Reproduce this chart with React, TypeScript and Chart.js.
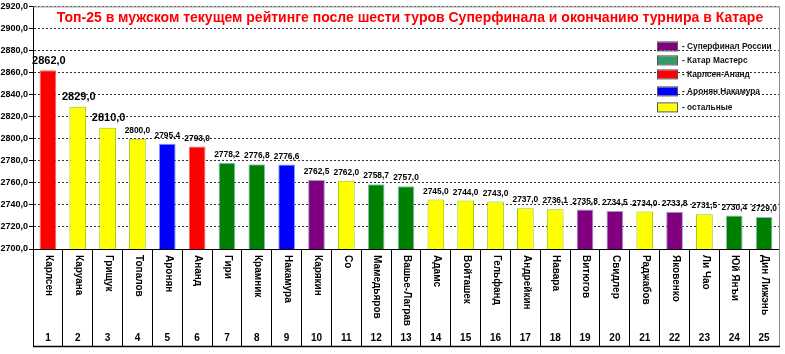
import React, { useEffect, useRef } from "react";
import { Chart, registerables } from "chart.js";

Chart.register(...registerables);

const names = [
  "Карлсен", "Каруана", "Грищук", "Топалов", "Аронян", "Ананд", "Гири", "Крамник",
  "Накамура", "Карякин", "Со", "Мамедьяров", "Вашье-Лаграв", "Адамс", "Войташек",
  "Гельфанд", "Андрейкин", "Навара", "Витюгов", "Свидлер", "Раджабов", "Яковенко",
  "Ли Чао", "Юй Янъи", "Дин Лижэнь",
];

const ratings = [
  2862.0, 2829.0, 2810.0, 2800.0, 2795.4, 2793.0, 2778.2, 2776.8, 2776.6, 2762.5,
  2762.0, 2758.7, 2757.0, 2745.0, 2744.0, 2743.0, 2737.0, 2736.1, 2735.8, 2734.5,
  2734.0, 2733.8, 2731.5, 2730.4, 2729.0,
];

// group of each player: s = Суперфинал, q = Катар, c = Карлсен-Ананд, a = Аронян Накамура, o = остальные
const groups = [
  "c", "o", "o", "o", "a", "c", "q", "q", "a", "s", "o", "q", "q", "o", "o", "o",
  "o", "o", "s", "s", "o", "s", "o", "q", "q",
];

const ranks = names.map((_, i) => String(i + 1));

const legendLabels = [
  "- Суперфинал России",
  "- Катар Мастерс",
  "- Карлсен-Ананд",
  "- Аронян Накамура",
  "- остальные",
];
const legendKeys = ["s", "q", "c", "a", "o"];

const yMin = 2700;
const yMax = 2920;
const yStep = 20;

const title =
  "Топ-25 в мужском текущем рейтинге после шести туров Суперфинала и окончанию турнира в Катаре";

const fillColors: Record<string, string> = {
  s: "#800080",
  q: "#008000",
  c: "#ff0000",
  a: "#0000ff",
  o: "#ffff00",
};
const legendColors: Record<string, string> = {
  s: "#800080",
  q: "#339966",
  c: "#ff0000",
  a: "#0000ff",
  o: "#ffff00",
};
const edgeColors: Record<string, string> = {
  s: "#9a9ac8",
  q: "#8fb8c8",
  c: "#e07070",
  a: "#7799ff",
  o: "#99cc00",
};

const fmt = (v: number) => v.toFixed(1).replace(".", ",");

const overlayPlugin = {
  id: "overlay",
  afterDatasetsDraw(chart: any) {
    const ctx = chart.ctx;
    const meta = chart.getDatasetMeta(0);
    ctx.save();
    ctx.fillStyle = "#000";
    ctx.textAlign = "center";
    ctx.textBaseline = "bottom";
    meta.data.forEach((el: any, i: number) => {
      ctx.font = i < 3 ? "bold 11px Arial" : "bold 8.4px Arial";
      ctx.fillText(fmt(ratings[i]), el.x + (i < 3 ? 1 : 0), el.y - 4);
    });
    ctx.restore();
  },
  afterDraw(chart: any) {
    const ctx = chart.ctx;
    const area = chart.chartArea;
    const xs = chart.scales.x;
    ctx.save();
    // frame
    ctx.strokeStyle = "#8c8c8c";
    ctx.lineWidth = 1;
    ctx.beginPath();
    ctx.moveTo(area.left, area.top + 0.5);
    ctx.lineTo(area.right + 0.5, area.top + 0.5);
    ctx.lineTo(area.right + 0.5, xs.bottom);
    ctx.stroke();
    ctx.strokeStyle = "#000";
    ctx.lineWidth = 1.5;
    ctx.beginPath();
    ctx.moveTo(area.left, xs.bottom - 0.5);
    ctx.lineTo(area.right + 1, xs.bottom - 0.5);
    ctx.stroke();

    // title
    ctx.fillStyle = "#ff0000";
    ctx.font = "bold 14px Arial";
    ctx.textAlign = "center";
    ctx.textBaseline = "middle";
    ctx.fillText(title, (area.left + area.right) / 2 + 4, area.top + 12);

    // legend
    const ly = [46, 60, 74, 91, 107];
    legendKeys.forEach((k, i) => {
      const y = area.top + ly[i] - 6;
      ctx.fillStyle = legendColors[k];
      ctx.fillRect(657, y - 4, 20, 8);
      ctx.strokeStyle = "#555";
      ctx.lineWidth = 1;
      ctx.strokeRect(657.5, y - 4.5, 20, 9);
      ctx.fillStyle = "#111";
      ctx.font = "bold 8.3px Arial";
      ctx.textAlign = "left";
      ctx.textBaseline = "middle";
      ctx.fillText(legendLabels[i], 682, y);
    });

    // category table
    names.forEach((n, i) => {
      const x = xs.getPixelForValue(i);
      ctx.save();
      ctx.translate(x + 1, xs.top + 6);
      ctx.rotate(Math.PI / 2);
      ctx.fillStyle = "#000";
      ctx.font = "bold 10px Arial";
      ctx.textAlign = "left";
      ctx.textBaseline = "middle";
      ctx.fillText(n, 0, 0);
      ctx.restore();
      ctx.fillStyle = "#000";
      ctx.font = "bold 10px Arial";
      ctx.textAlign = "center";
      ctx.textBaseline = "middle";
      ctx.fillText(ranks[i], x, xs.bottom - 9);
    });
    ctx.restore();
  },
};

export default function App() {
  const ref = useRef<HTMLCanvasElement | null>(null);
  useEffect(() => {
    if (!ref.current) return;
    const chart = new Chart(ref.current, {
      type: "bar",
      data: {
        labels: names,
        datasets: [
          {
            data: ratings,
            backgroundColor: groups.map((g) => fillColors[g]),
            borderColor: groups.map((g) => edgeColors[g]),
            borderWidth: 1,
            barPercentage: 0.56,
            categoryPercentage: 1,
          },
        ],
      },
      options: {
        responsive: false,
        animation: false,
        devicePixelRatio: 1,
        layout: { padding: { top: 6, right: 6, bottom: 7, left: 0 } },
        plugins: {
          legend: { display: false },
          tooltip: { enabled: false },
          title: { display: false },
        },
        scales: {
          x: {
            offset: true,
            ticks: { display: false },
            grid: {
              display: true,
              offset: true,
              drawOnChartArea: false,
              drawTicks: true,
              tickLength: 98,
              color: "#000",
              tickColor: "#000",
            },
            border: { display: true, color: "#000", width: 1 },
            afterFit: (s: any) => {
              s.height = 98;
            },
          },
          y: {
            min: yMin,
            max: yMax,
            ticks: {
              stepSize: yStep,
              color: "#000",
              font: { family: "Arial", size: 9, weight: "bold" },
              padding: 1,
              callback: (v: any) => fmt(Number(v)),
            },
            grid: {
              color: "#333",
              tickColor: "#000",
              tickLength: 4,
            },
            border: { display: true, color: "#000", width: 1, dash: [2, 2] },
            afterFit: (s: any) => {
              s.width = 33;
            },
          },
        },
      },
      plugins: [overlayPlugin],
    });
    return () => chart.destroy();
  }, []);
  return (
    <div style={{ position: "fixed", left: 0, top: 0, width: 785, height: 354, background: "#fff" }}>
      <canvas ref={ref} width={785} height={354} style={{ display: "block" }} />
    </div>
  );
}
